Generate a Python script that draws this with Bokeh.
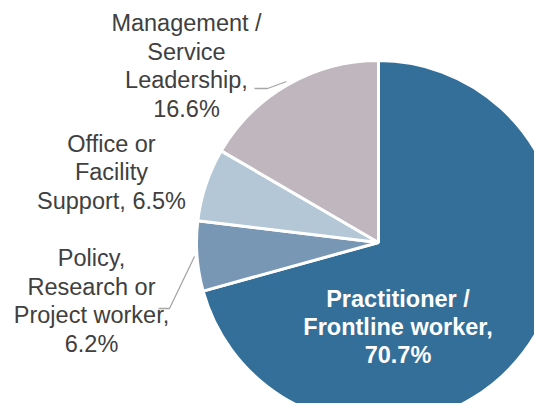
import math
from bokeh.plotting import figure
from bokeh.models import Range1d, ColumnDataSource
from bokeh.core.properties import value
from bokeh.embed import file_html
from bokeh.resources import INLINE

# ---- data ----
categories = ["Practitioner /\nFrontline worker,", "Policy,\nResearch or\nProject worker,",
              "Office or\nFacility\nSupport,", "Management /\nService\nLeadership,"]
shares = [70.7, 6.2, 6.5, 16.6]
colors = ["#336f99", "#7897b4", "#b3c7d6", "#c0b6bd"]

# ---- layout (page pixel coords, y measured downwards) ----
W, H = 534, 403
PAGE_H = 419
ORG = 1
cx, cy, r = 379, 243, 182

def Y(page_y):
    return PAGE_H - page_y

p = figure(width=W, height=H, output_backend="svg", toolbar_location=None,
           x_range=Range1d(ORG, ORG + W), y_range=Range1d(PAGE_H - ORG - H, PAGE_H - ORG),
           min_border=0, outline_line_color=None)
p.axis.visible = False
p.grid.visible = False
p.background_fill_color = "white"

total = sum(shares)
starts, ends = [], []
a = math.pi / 2
for s in shares:
    starts.append(a)
    a -= s / total * 2 * math.pi
    ends.append(a)

src = ColumnDataSource(dict(start=starts, end=ends, color=colors))
p.wedge(x=cx, y=Y(cy), radius=r, start_angle="start", end_angle="end",
        direction="clock", fill_color="color", line_color="white", line_width=3,
        source=src)

# leader lines
p.line(x=[255, 268, 287], y=[Y(89), Y(89), Y(82)], line_color="#a6a6a6", line_width=1.3)
p.line(x=[159, 170, 195], y=[Y(309), Y(309), Y(257)], line_color="#a6a6a6", line_width=1.3)

labels = [c + ("\n" if i in (0, 1, 3) else " ") + f"{v:.1f}%" for i, (c, v) in enumerate(zip(categories, shares))]
label_pos = [(398.5, 327.5), (92, 301.5), (112, 173), (187, 66.5)]

font = value("Liberation Sans")
for i, (lab, (lx, ly)) in enumerate(zip(labels, label_pos)):
    if i == 0:
        p.text(x=[lx], y=[Y(ly)], text=[lab], text_font=font, text_font_size="23.5px",
               text_font_style="bold", text_color="white", text_align="center",
               text_baseline="middle", text_line_height=1.09)
    else:
        p.text(x=[lx], y=[Y(ly)], text=[lab], text_font=font, text_font_size="23.5px",
               text_color="#404040", text_align="center",
               text_baseline="middle", text_line_height=1.09)

open("out.html", "w").write(file_html(p, INLINE))
